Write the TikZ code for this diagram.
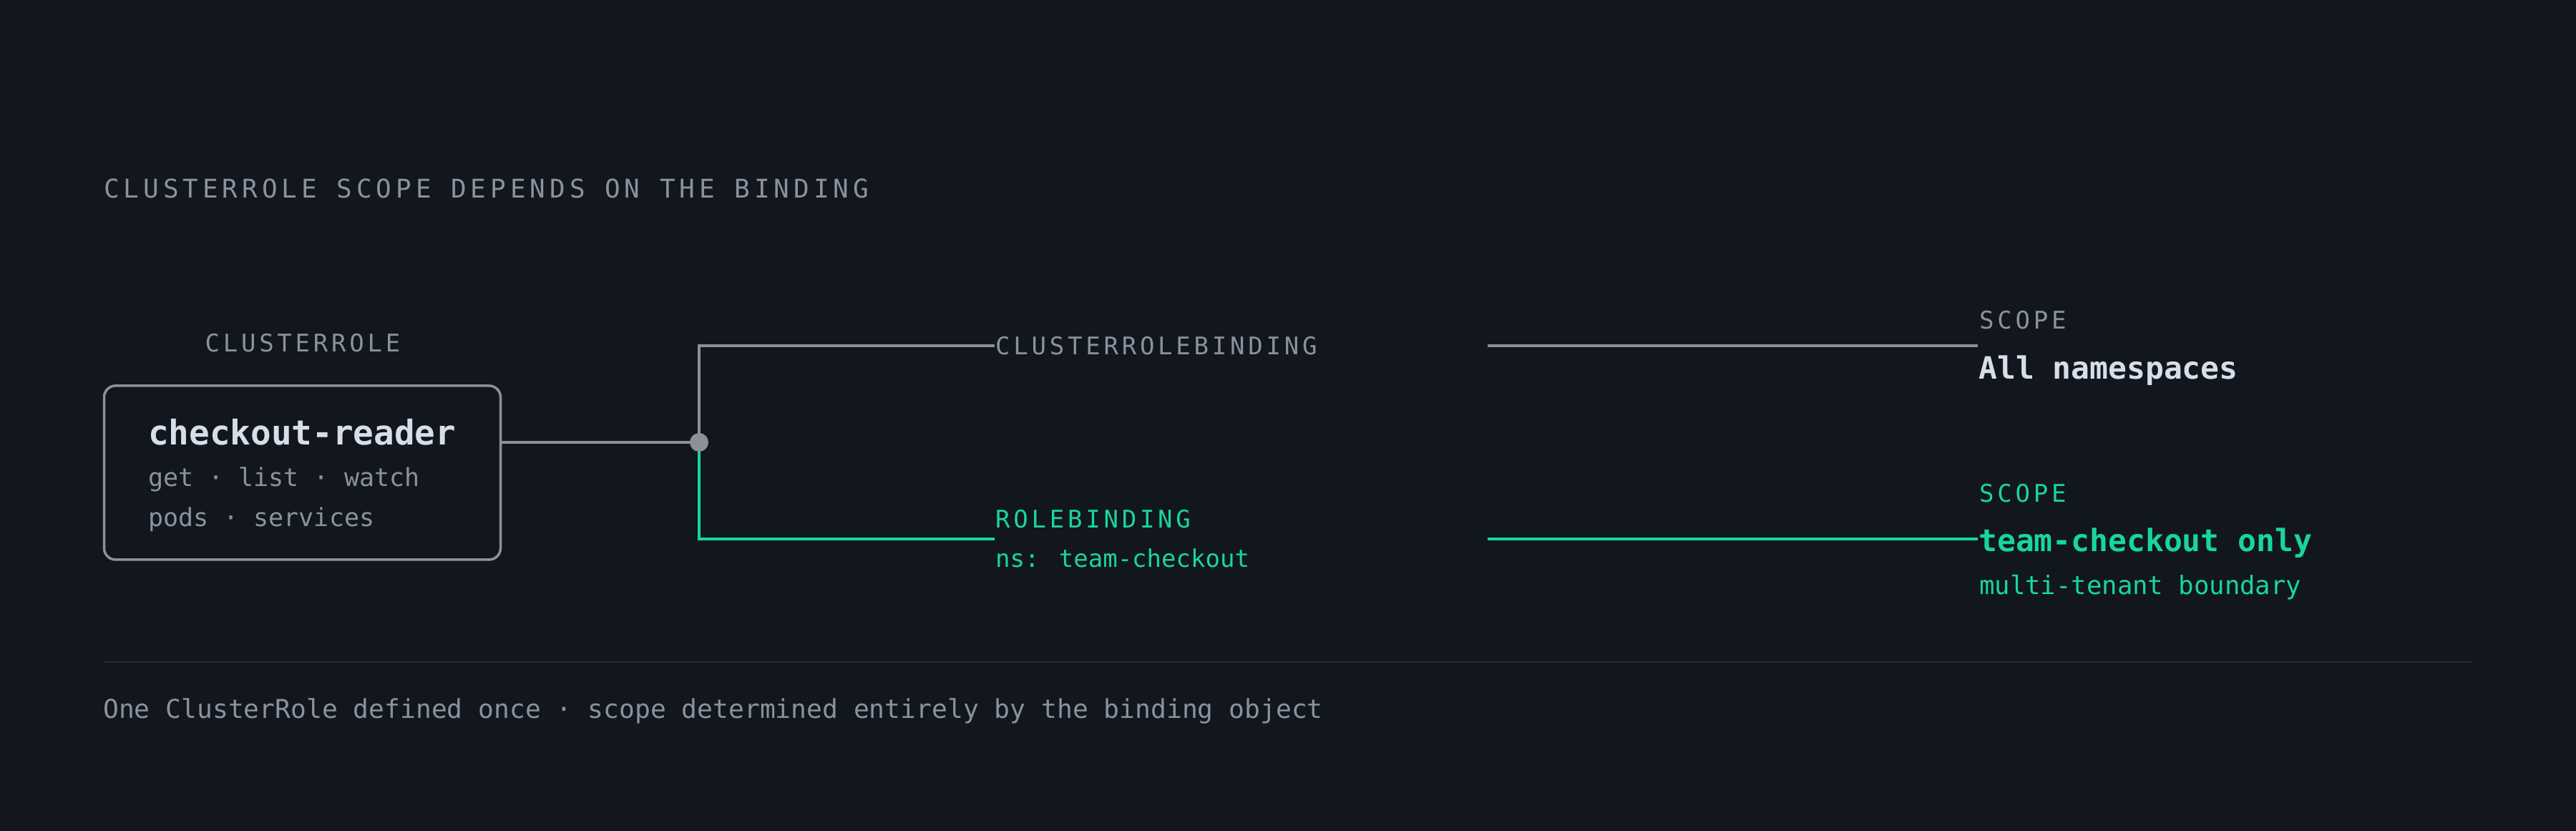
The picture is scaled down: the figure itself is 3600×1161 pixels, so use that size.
\documentclass[tikz,border=0pt]{standalone}
\usepackage{fontspec}
\setmainfont{DejaVu Sans Mono}
\newfontfamily\labfont[LetterSpace=14]{DejaVu Sans Mono}
\newfontfamily\titfont[LetterSpace=16.5]{DejaVu Sans Mono}
\definecolor{bg}{HTML}{12161E}
\definecolor{muted}{HTML}{8B929C}
\definecolor{light}{HTML}{D8DEE8}
\definecolor{accent}{HTML}{18D69B}
\definecolor{linegray}{HTML}{8C9199}
\definecolor{divider}{HTML}{232934}
\tikzset{
  txt/.style={inner sep=0pt, anchor=base west},
  lab/.style={txt, font={\labfont\fontsize{34}{40}\selectfont}},
  small/.style={txt, font={\fontsize{35}{40}\selectfont}},
  big/.style={txt, font={\bfseries\fontsize{43}{48}\selectfont}},
  grayline/.style={draw=linegray, line width=4pt},
  greenline/.style={draw=accent, line width=4pt},
}
\begin{document}
\begin{tikzpicture}[x=1pt,y=-1pt]
\fill[bg] (0,0) rectangle (3600,1161);
\useasboundingbox (0,0) rectangle (3600,1161);

% title
\node[txt, text=muted, font={\titfont\fontsize{36}{40}\selectfont}] (title) at (145,276) {CLUSTERROLE SCOPE DEPENDS ON THE BINDING};

% clusterrole box
\node[lab, text=muted, anchor=base] (crlabel) at (423,491) {CLUSTERROLE};
\node[draw=linegray, line width=3.5pt, rounded corners=16pt, minimum width=554pt, minimum height=243pt, inner sep=0pt] (role) at (422.5,660.4) {};
\node[txt, text=light, font={\bfseries\fontsize{47.6}{52}\selectfont}] (rname) at (207,621) {checkout-reader};
\node[small, text=muted] (verbs) at (207,679) {get · list · watch};
\node[small, text=muted] (res) at (207,735) {pods · services};

% junction
\coordinate (jn) at (977,618);
\coordinate (crbL) at (1390,483);
\coordinate (rbL) at (1390,753);
\coordinate (crbR) at (2079,483);
\coordinate (scA) at (2764,483);
\coordinate (rbR) at (2079,753);
\coordinate (scB) at (2764,753);

\draw[grayline] (role.east |- jn) -- (jn);
\draw[grayline] (jn) |- (crbL);
\draw[greenline] (jn) |- (rbL);
\draw[grayline] (crbR) -- (scA);
\draw[greenline] (rbR) -- (scB);
\node[circle, fill=linegray, minimum size=26pt, inner sep=0pt] (dot) at (jn) {};

% bindings
\node[lab, text=muted] (crb) at (1391,495) {CLUSTERROLEBINDING};
\node[lab, text=accent] (rb) at (1391,737) {ROLEBINDING};
\node[small, text=accent, font={\fontsize{34}{40}\selectfont}] (ns) at (1391,792) {ns: team-checkout};

% scopes
\node[lab, text=muted] (scope1) at (2766,459) {SCOPE};
\node[big, text=light] (all) at (2765,529) {All namespaces};
\node[lab, text=accent] (scope2) at (2766,701) {SCOPE};
\node[big, text=accent] (tc) at (2765,770) {team-checkout only};
\node[small, text=accent, font={\fontsize{35.6}{40}\selectfont}] (mt) at (2766,830) {multi-tenant boundary};

% divider and footer
\coordinate (dl) at (145,925);
\coordinate (dr) at (3455,925);
\draw[divider, line width=2.5pt] (dl) -- (dr);
\node[txt, text=muted, font={\fontsize{36.3}{40}\selectfont}] (foot) at (144,1003) {One ClusterRole defined once · scope determined entirely by the binding object};
\end{tikzpicture}
\end{document}
